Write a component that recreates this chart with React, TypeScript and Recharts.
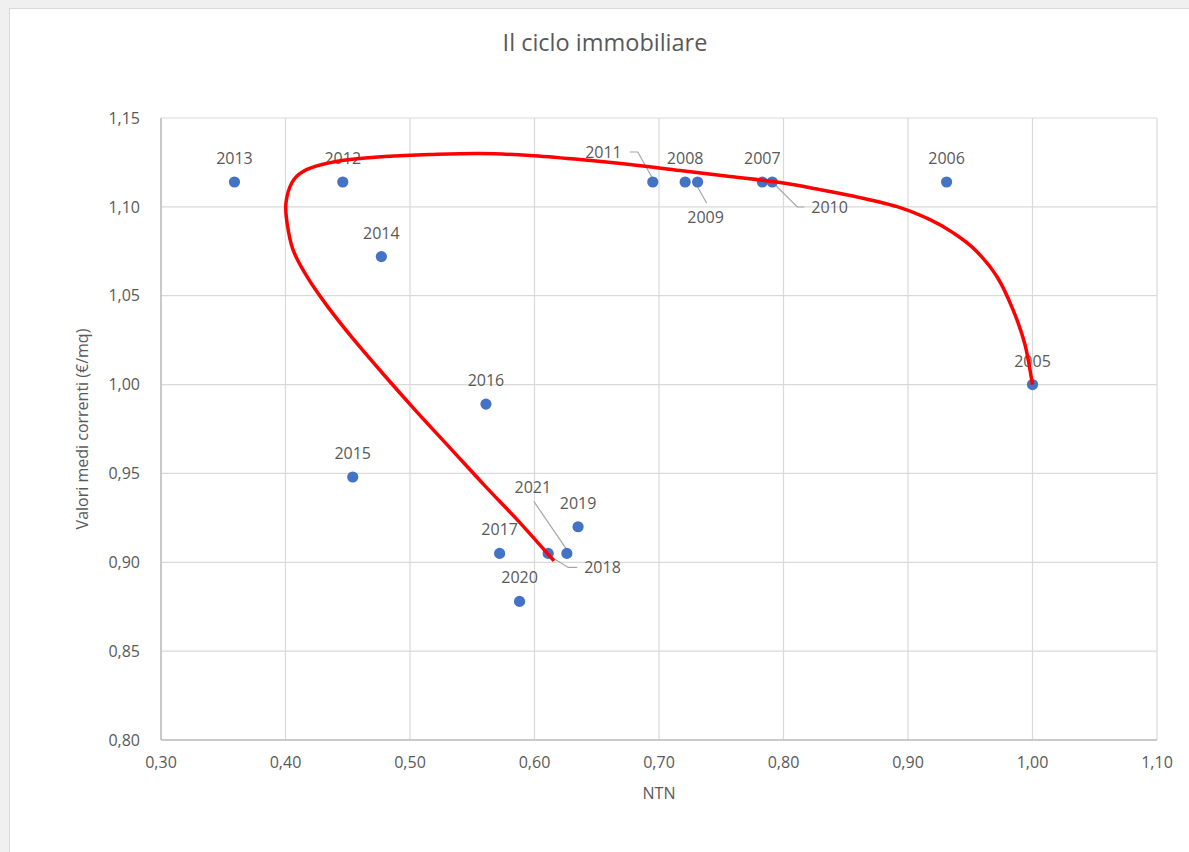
import React from 'react';
import { ScatterChart, Scatter, XAxis, YAxis, CartesianGrid } from 'recharts';

// ---- data ----
const years = ['2005', '2006', '2007', '2008', '2009', '2010', '2011', '2012', '2013', '2014', '2015', '2016', '2017', '2018', '2019', '2020', '2021'];
const ntnValues = [1.0, 0.931, 0.783, 0.721, 0.731, 0.791, 0.695, 0.446, 0.359, 0.477, 0.454, 0.561, 0.572, 0.611, 0.635, 0.588, 0.626];
const priceValues = [1.0, 1.114, 1.114, 1.114, 1.114, 1.114, 1.114, 1.114, 1.114, 1.072, 0.948, 0.989, 0.905, 0.905, 0.92, 0.878, 0.905];

// hand-drawn cycle curve (NTN, price), starting at 2005
const curveNtn = [1.0, 0.994, 0.9843, 0.9715, 0.9538, 0.9361, 0.9177, 0.8936, 0.8614, 0.8293, 0.7972, 0.757, 0.7169, 0.6767, 0.6365, 0.5964, 0.5562, 0.5161, 0.4799, 0.4518, 0.4293, 0.4141, 0.4052, 0.4004, 0.4012, 0.406, 0.4173, 0.4333, 0.4542, 0.4783, 0.504, 0.5321, 0.5602, 0.5884, 0.6157];
const curvePrice = [1.0, 1.0224, 1.0422, 1.0607, 1.0759, 1.0855, 1.0928, 1.0996, 1.1052, 1.1097, 1.1137, 1.1171, 1.1204, 1.1238, 1.1266, 1.1289, 1.13, 1.1294, 1.1283, 1.1266, 1.1238, 1.1199, 1.1137, 1.1024, 1.0912, 1.0759, 1.0607, 1.0444, 1.0258, 1.0061, 0.9858, 0.9644, 0.943, 0.9222, 0.9008];

const xTicks = [0.3, 0.4, 0.5, 0.6, 0.7, 0.8, 0.9, 1.0, 1.1];
const yTicks = [0.8, 0.85, 0.9, 0.95, 1.0, 1.05, 1.1, 1.15];

const chartTitle = 'Il ciclo immobiliare';
const xTitle = 'NTN';
const yTitle = 'Valori medi correnti (€/mq)';

// ---- styling ----
const FONT = '"Open Sans", "Segoe UI", sans-serif';
const TEXT = '#595959';
const GRID = '#d9d9d9';
const AXIS = '#bfbfbf';
const DOT = '#4472c4';
const LEADER = '#a6a6a6';

type Placement = { anchor: 'start' | 'middle' | 'end'; dx: number; dy: number; leader?: number[][] };
const labelPlacement: Record<string, Placement> = {
  '2011': { anchor: 'end', dx: -31, dy: -30, leader: [[-23, -30], [-15, -30], [-1, -5]] },
  '2009': { anchor: 'middle', dx: 8, dy: 35, leader: [[0, 5], [9, 21]] },
  '2010': { anchor: 'start', dx: 39, dy: 25, leader: [[3, 3], [25, 25], [32, 25]] },
  '2021': { anchor: 'middle', dx: -34, dy: -66, leader: [[-33, -52], [-1, -5]] },
  '2018': { anchor: 'start', dx: 36, dy: 14, leader: [[4, 4], [20, 14], [29, 14]] },
};
const defaultPlacement: Placement = { anchor: 'middle', dx: 0, dy: -24 };

const pointData = years.map((y, i) => ({ year: y, x: ntnValues[i], y: priceValues[i] }));
const curveData = curveNtn.map((x, i) => ({ x, y: curvePrice[i] }));

const fmt = (v: number) => v.toFixed(2).replace('.', ',');

// smooth Catmull-Rom style curve factory (d3 curve interface)
const smoothCurve = (context: any) => {
  let pts: number[][] = [];
  return {
    areaStart() {},
    areaEnd() {},
    lineStart() {
      pts = [];
    },
    lineEnd() {
      if (!pts.length) return;
      context.moveTo(pts[0][0], pts[0][1]);
      for (let i = 0; i < pts.length - 1; i++) {
        const p0 = pts[i - 1] || pts[i];
        const p1 = pts[i];
        const p2 = pts[i + 1];
        const p3 = pts[i + 2] || pts[i + 1];
        context.bezierCurveTo(
          p1[0] + (p2[0] - p0[0]) / 6,
          p1[1] + (p2[1] - p0[1]) / 6,
          p2[0] - (p3[0] - p1[0]) / 6,
          p2[1] - (p3[1] - p1[1]) / 6,
          p2[0],
          p2[1]
        );
      }
    },
    point(x: number, y: number) {
      pts.push([x, y]);
    },
  };
};

const PointShape = (props: any) => {
  const { cx, cy, payload } = props;
  if (cx == null || cy == null) return <g />;
  const p = labelPlacement[payload.year] || defaultPlacement;
  return (
    <g>
      {p.leader && (
        <polyline
          points={p.leader.map(([dx, dy]) => `${cx + dx},${cy + dy}`).join(' ')}
          fill="none"
          stroke={LEADER}
          strokeWidth={1.2}
        />
      )}
      <circle cx={cx} cy={cy} r={5.6} fill={DOT} />
      <text
        x={cx + p.dx}
        y={cy + p.dy}
        textAnchor={p.anchor}
        dominantBaseline="central"
        fill={TEXT}
        fontSize={16}
        fontFamily={FONT}
      >
        {payload.year}
      </text>
    </g>
  );
};

const NoShape = () => <g />;

export default function App() {
  return (
    <div style={{ position: 'fixed', left: 0, top: 0, width: 1189, height: 852, background: '#f0f0f0', overflow: 'hidden', fontFamily: FONT }}>
      <div style={{ position: 'absolute', left: 9, top: 8, width: 1200, height: 860, background: '#fff', border: '1px solid #d9d9d9', boxSizing: 'border-box' }} />
      <div style={{ position: 'absolute', left: 0, top: 0 }}>
        <ScatterChart width={1189} height={852} margin={{ top: 118, right: 32, bottom: 72, left: 0 }}>
          <CartesianGrid stroke={GRID} strokeWidth={1.2} />
          <XAxis
            type="number"
            dataKey="x"
            domain={[0.3, 1.1]}
            ticks={xTicks}
            tickFormatter={fmt}
            axisLine={{ stroke: AXIS, strokeWidth: 1.5 }}
            tickLine={false}
            tickSize={0}
            tickMargin={17}
            height={40}
            tick={{ fill: TEXT, fontSize: 16, fontFamily: FONT }}
            allowDataOverflow
          />
          <YAxis
            type="number"
            dataKey="y"
            domain={[0.8, 1.15]}
            ticks={yTicks}
            tickFormatter={fmt}
            axisLine={{ stroke: AXIS, strokeWidth: 1.5 }}
            tickLine={false}
            tickSize={0}
            tickMargin={21}
            width={161}
            tick={{ fill: TEXT, fontSize: 16, fontFamily: FONT }}
            allowDataOverflow
          />
          <Scatter data={pointData} shape={PointShape} isAnimationActive={false} />
          <Scatter
            data={curveData}
            shape={NoShape}
            line={{ stroke: '#ff0000', strokeWidth: 3.5, fill: 'none' }}
            lineType="joint"
            lineJointType={smoothCurve as any}
            isAnimationActive={false}
          />
        </ScatterChart>
      </div>
      <div style={{ position: 'absolute', left: 0, width: 1210, top: 26, textAlign: 'center', fontSize: 23.5, color: TEXT, lineHeight: '32px' }}>{chartTitle}</div>
      <div style={{ position: 'absolute', left: 559, width: 200, top: 782, textAlign: 'center', fontSize: 16, color: TEXT, lineHeight: '22px' }}>{xTitle}</div>
      <div style={{ position: 'absolute', left: 82 - 150, width: 300, top: 429 - 11, textAlign: 'center', fontSize: 16, color: TEXT, lineHeight: '22px', transform: 'rotate(-90deg)' }}>{yTitle}</div>
    </div>
  );
}
